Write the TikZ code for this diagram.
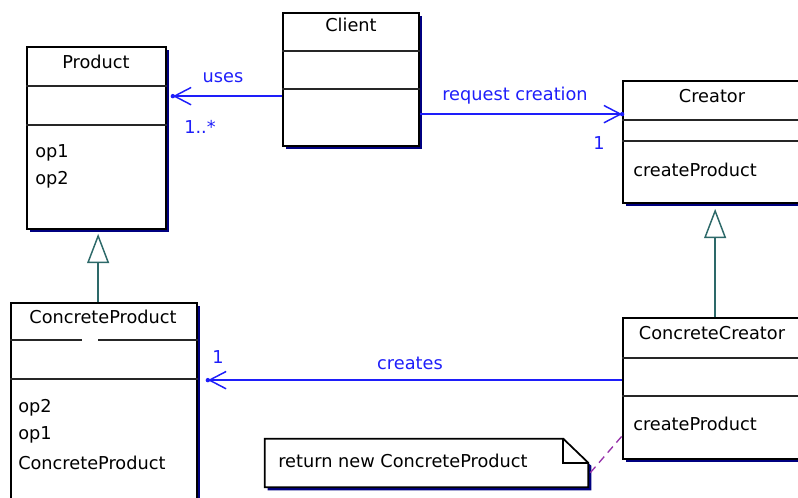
\documentclass[tikz,border=0pt]{standalone}
\usepackage{fontspec}
\setmainfont{DejaVu Sans}
\usetikzlibrary{arrows.meta,fit,shadows,calc}
\definecolor{umlblue}{RGB}{30,30,250}
\definecolor{shadowblue}{RGB}{0,0,128}
\definecolor{inhcolor}{RGB}{45,105,105}
\definecolor{notelink}{RGB}{150,50,170}
\tikzset{
  classbox/.style={draw=black, line width=1.3pt, fill=white, inner sep=0pt,
    general shadow={fill=shadowblue, shadow xshift=2.6pt, shadow yshift=-2.6pt}},
  divider/.style={draw=black!85, line width=1.4pt},
  member/.style={anchor=west, inner sep=0pt, text=black},
  title/.style={inner sep=0pt, text=black},
  assoc/.style={draw=umlblue, line width=1.1pt,
    -{Straight Barb[length=12.5pt,width=13pt,line width=1.1pt]}},
  tipdot/.style={fill=umlblue},
  bluelabel/.style={inner sep=0pt, text=umlblue},
  inherit/.style={draw=inhcolor, line width=1.2pt,
    -{Triangle[open, length=22pt, width=16.5pt, fill=white, line width=1.1pt]}},
  notelinkline/.style={draw=notelink, line width=1pt, dash pattern=on 6pt off 4pt},
}
\begin{document}
\begin{tikzpicture}[x=0.75pt, y=-0.75pt, font=\fontsize{13.3pt}{15pt}\selectfont]
\useasboundingbox (0,0) rectangle (798,497);
\clip (0,0) rectangle (798,497);

% class boxes
\node[classbox, fit={(27,47) (166,229)}] (product) {};
\node[classbox, fit={(283,13) (419,146)}] (client) {};
\node[classbox, fit={(623,81) (801,203)}] (creator) {};
\node[classbox, fit={(623,318) (801,459)}] (ccreator) {};
\node[classbox, fit={(11,303) (197,520)}] (cproduct) {};

% compartment dividers
\draw[divider] ($(product.north west)+(0,40)$) -- ($(product.north east)+(0,40)$);
\draw[divider] ($(product.north west)+(0,79)$) -- ($(product.north east)+(0,79)$);
\draw[divider] ($(client.north west)+(0,39)$) -- ($(client.north east)+(0,39)$);
\draw[divider] ($(client.north west)+(0,77)$) -- ($(client.north east)+(0,77)$);
\draw[divider] ($(creator.north west)+(0,40)$) -- ($(creator.north east)+(0,40)$);
\draw[divider] ($(creator.north west)+(0,61)$) -- ($(creator.north east)+(0,61)$);
\draw[divider] ($(ccreator.north west)+(0,41)$) -- ($(ccreator.north east)+(0,41)$);
\draw[divider] ($(ccreator.north west)+(0,79)$) -- ($(ccreator.north east)+(0,79)$);
\draw[divider] ($(cproduct.north west)+(0,38)$) -- ($(cproduct.north west)+(72,38)$);
\draw[divider] ($(cproduct.north west)+(88,38)$) -- ($(cproduct.north east)+(0,38)$);
\draw[divider] ($(cproduct.north west)+(0,77)$) -- ($(cproduct.north east)+(0,77)$);

% class names and operations
\node[title] (productname) at (96,62) {Product};
\node[member] (productop1) at (35,153) {op1};
\node[member] (productop2) at (35,180) {op2};
\node[title] (clientname) at (351,25) {Client};
\node[title] (creatorname) at (712,96) {Creator};
\node[member] (creatorop) at (633,170) {createProduct};
\node[title] (ccreatorname) at (712,333) {ConcreteCreator};
\node[member] (ccreatorop) at (633,424) {createProduct};
\node[title] (cproductname) at (103,317) {ConcreteProduct};
\node[member] (cproductop2) at (18,408) {op2};
\node[member] (cproductop1) at (18,435) {op1};
\node[member] (cproductctor) at (18,463) {ConcreteProduct};

% note
\node[fit={(265,439) (588,487)}, inner sep=0pt] (note) {};
\fill[shadowblue] ($(note.north west)+(3,3)$) -- ($(note.north east)+(-22,3)$)
  -- ($(note.north east)+(3,27)$) -- ($(note.south east)+(3,3)$)
  -- ($(note.south west)+(3,3)$) -- cycle;
\draw[line width=1.3pt, fill=white] (note.north west) -- ($(note.north east)+(-25,0)$)
  -- ($(note.north east)+(0,24)$) -- (note.south east) -- (note.south west) -- cycle;
\draw[line width=1.3pt] ($(note.north east)+(-25,0)$) -- ($(note.north east)+(-25,24)$)
  -- ($(note.north east)+(0,24)$);
\node[member] (notetext) at (278,461) {return new ConcreteProduct};

% associations
\coordinate (usestip) at ($(product.north east)+(6,50)$);
\draw[assoc] ($(client.north west)+(0,84)$) -- (usestip);
\fill[tipdot] (usestip) circle (2.2);
\node[bluelabel] (useslabel) at (223,78) {uses};
\node[bluelabel] (usesmult) at (200,127) {1..*};

\coordinate (requesttip) at ($(creator.north west)+(0,34)$);
\draw[assoc] ($(client.north east)+(0,102)$) -- (requesttip);
\fill[tipdot] (requesttip) circle (2.2);
\node[bluelabel] (requestlabel) at (515,96) {request creation};
\node[bluelabel] (requestmult) at (599,143) {1};

\coordinate (createstip) at ($(cproduct.north east)+(10,78)$);
\draw[assoc] ($(ccreator.north west)+(0,63)$) -- (createstip);
\fill[tipdot] (createstip) circle (2.2);
\node[bluelabel] (createslabel) at (410,363) {creates};
\node[bluelabel] (createsmult) at (218,357) {1};

% generalizations
\draw[inherit] ($(cproduct.north west)+(88,0)$) -- ($(product.south west)+(72,4)$);
\draw[inherit] ($(ccreator.north west)+(93,0)$) -- ($(creator.south west)+(93,5)$);

% note attachment
\draw[notelinkline] ($(note.north east)+(2,34)$) -- ($(ccreator.south west)+(0,-24)$);
\end{tikzpicture}
\end{document}
